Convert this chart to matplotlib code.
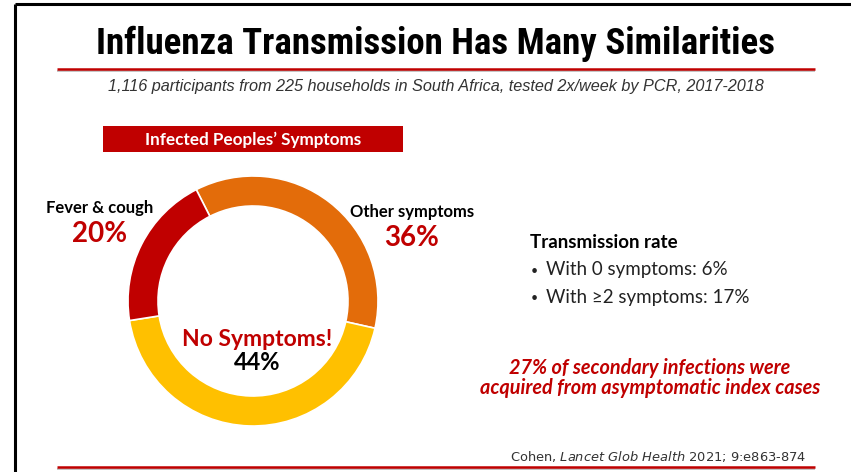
import matplotlib
matplotlib.use("Agg")
import matplotlib.pyplot as plt
from matplotlib.patches import Rectangle
from matplotlib import font_manager

# ---- data ----
categories = ["Other symptoms", "No Symptoms!", "Fever & cough"]
shares = [36, 44, 20]
colors = ["#E36C0A", "#FFC000", "#C00000"]
rate_labels = ["With 0 symptoms", "With \u22652 symptoms"]
rate_values = [6, 17]

title = "Influenza Transmission Has Many Similarities"
subtitle = "1,116 participants from 225 households in South Africa, tested 2x/week by PCR, 2017-2018"
RED = "#C00000"

plt.rcParams["mathtext.fontset"] = "dejavusans"

names = {f.name for f in font_manager.fontManager.ttflist}
cond = [n for n in ("Roboto Condensed", "Liberation Sans Narrow", "Open Sans Condensed") if n in names]
TF = (cond[:1] or ["Roboto"]) + ["DejaVu Sans"]

W, H = 851, 472
fig = plt.figure(figsize=(W / 100, H / 100), dpi=100)
bg = fig.add_axes([0, 0, 1, 1])
bg.set_xlim(0, W)
bg.set_ylim(H, 0)
bg.axis("off")

# frame
bg.plot([15, W], [4, 4], color="black", lw=2.2, solid_capstyle="butt")
bg.plot([15, 15], [4, H], color="black", lw=2.2, solid_capstyle="butt")

# title and rules
t = bg.text(436, 44, title, ha="center", va="center", fontsize=25, fontweight="bold",
            family=TF, color="black")
fig.canvas.draw()
bb = t.get_window_extent()
if bb.width > 0:
    t.set_fontsize(25 * min(1.2, 680 / bb.width))

for y in (69, 467):
    bg.plot([57, 815], [y + 1.6, y + 1.6], color="#BBBBBB", lw=1.2, solid_capstyle="butt")
    bg.plot([57, 815], [y, y], color=RED, lw=1.8, solid_capstyle="butt")
bg.text(436, 87, subtitle, ha="center", va="center", fontsize=11.7, style="italic",
        family=["Liberation Sans", "DejaVu Sans"], color="#333333")

# banner
bg.add_patch(Rectangle((103, 126), 300, 26, facecolor=RED, edgecolor="none"))
bg.text(253, 139.5, "Infected Peoples\u2019 Symptoms", ha="center", va="center", fontsize=12.3,
        fontweight="bold", family=["Lato", "DejaVu Sans"], color="white")

# donut
cx, cy, r = 253, 301, 125
pax = fig.add_axes([(cx - r) / W, (H - cy - r) / H, 2 * r / W, 2 * r / H])
pax.pie(shares, colors=colors, startangle=117, counterclock=False,
        wedgeprops=dict(width=0.24, edgecolor="white", linewidth=1.2))
pax.set_xlim(-1, 1)
pax.set_ylim(-1, 1)
pax.set_aspect("equal")
pax.axis("off")

LF = ["Lato", "DejaVu Sans"]
# segment labels
bg.text(100, 208, categories[2], ha="center", va="center", fontsize=12, fontweight="bold", family=LF)
bg.text(100, 234, f"{shares[2]}%", ha="center", va="center", fontsize=20, fontweight="bold", family=LF, color=RED)
bg.text(412, 212, categories[0], ha="center", va="center", fontsize=12, fontweight="bold", family=LF)
bg.text(412, 238, f"{shares[0]}%", ha="center", va="center", fontsize=20, fontweight="bold", family=LF, color=RED)
bg.text(257, 339, categories[1], ha="center", va="center", fontsize=16.5, fontweight="bold", family=LF, color=RED)
bg.text(257, 362, f"{shares[1]}%", ha="center", va="center", fontsize=17, fontweight="bold", family=LF, color="black")

# transmission rate
bg.text(530, 243, "Transmission rate", ha="left", va="center", fontsize=13.5, fontweight="bold", family=LF)
for i, (lab, v) in enumerate(zip(rate_labels, rate_values)):
    bg.text(531, 271 + 27 * i, "\u2022", ha="left", va="center", fontsize=9, family=LF, color="#222222")
    bg.text(546, 270 + 27 * i, f"{lab}: {v}%", ha="left", va="center", fontsize=13.5, family=LF, color="#222222")

# highlight
bg.text(650, 368, "27% of secondary infections were", ha="center", va="center", fontsize=14.3,
        fontweight="bold", style="italic", family=LF, color=RED)
bg.text(650, 388, "acquired from asymptomatic index cases", ha="center", va="center", fontsize=14.3,
        fontweight="bold", style="italic", family=LF, color=RED)

# citation
bg.text(806, 456, r"Cohen, $\it{Lancet\ Glob\ Health}$ 2021; 9:e863-874", ha="right", va="center",
        fontsize=9.4, family="DejaVu Sans", color="#333333")

fig.savefig("out.png", dpi=100)
